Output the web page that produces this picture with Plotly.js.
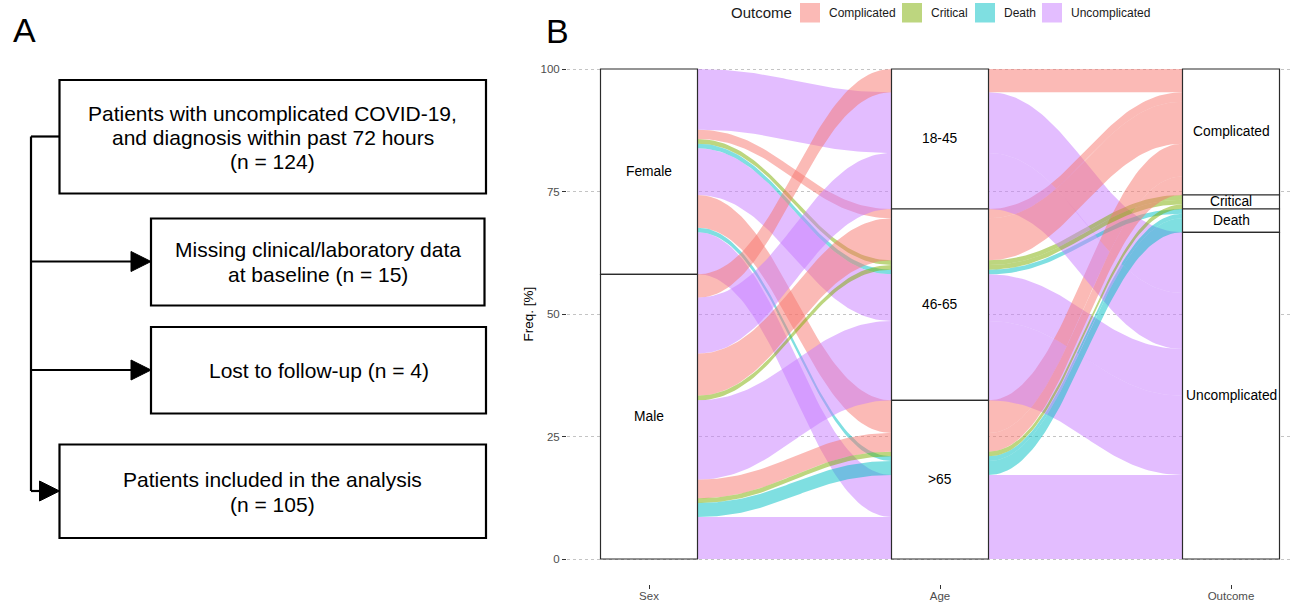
<!DOCTYPE html>
<html>
<head>
<meta charset="utf-8">
<script src="https://cdn.plot.ly/plotly-3.0.1.min.js"></script>
<style>
  html, body { margin: 0; padding: 0; background: #ffffff; }
  #chart { width: 1293px; height: 602px; }
</style>
</head>
<body>
<div id="chart"></div>
<script>
// ---------------- DATA ----------------
const axisLabels = ['Sex', 'Age', 'Outcome'];
const sexLevels = ['Female', 'Male'];
const ageLevels = ['18-45', '46-65', '>65'];
const outcomeLevels = ['Complicated', 'Critical', 'Death', 'Uncomplicated'];
const outcomeColors = ['#F8766D', '#7CAE00', '#00BFC4', '#C77CFF'];

// one record per (Sex, Age, Outcome) combination with patient count
const flowSex     = ['Female','Female','Female','Female','Female','Female','Female','Female',
                     'Male','Male','Male','Male','Male','Male','Male','Male','Male'];
const flowAge     = ['18-45','46-65','46-65','46-65','46-65','>65','>65','>65',
                     '18-45','18-45','46-65','46-65','46-65','>65','>65','>65','>65'];
const flowOutcome = ['Uncomplicated','Complicated','Critical','Death','Uncomplicated','Complicated','Death','Uncomplicated',
                     'Complicated','Uncomplicated','Complicated','Critical','Uncomplicated','Complicated','Critical','Death','Uncomplicated'];
const flowCount   = [13, 2, 1, 1, 10, 7, 1, 9,
                     5, 12, 9, 1, 17, 4, 1, 3, 9];

const yTickVals = [0, 25, 50, 75, 100];

// Flowchart (panel A) texts
const boxMainLines = ['Patients with uncomplicated COVID-19,', 'and diagnosis within past 72 hours', '(n = 124)'];
const boxMissingLines = ['Missing clinical/laboratory data', 'at baseline (n = 15)'];
const boxLostLines = ['Lost to follow-up (n = 4)'];
const boxIncludedLines = ['Patients included in the analysis', '(n = 105)'];

// ---------------- HELPERS ----------------
const W = 1293, H = 602;
const FONT = 'Liberation Sans, Arial, Helvetica, sans-serif';
const P = x => x / W;          // pixel x -> paper
const Q = y => 1 - y / H;      // pixel y -> paper

function rgba(hex, a) {
  const r = parseInt(hex.slice(1, 3), 16), g = parseInt(hex.slice(3, 5), 16), b = parseInt(hex.slice(5, 7), 16);
  return `rgba(${r},${g},${b},${a})`;
}

// ---------------- ALLUVIAL LAYOUT ----------------
const vars = [flowSex, flowAge, flowOutcome];
const levels = [sexLevels, ageLevels, outcomeLevels];
const nRec = flowCount.length;
const total = flowCount.reduce((a, b) => a + b, 0);
const pct = flowCount.map(c => c / total * 100);

// lode ordering priority at each axis (zigzag guidance)
const sortKeys = [[0, 1, 2], [1, 2, 0], [2, 1, 0]];
const lodeTop = [[], [], []], lodeBot = [[], [], []];
for (let a = 0; a < 3; a++) {
  const idx = [...Array(nRec).keys()];
  idx.sort((i, j) => {
    for (const k of sortKeys[a]) {
      const d = levels[k].indexOf(vars[k][i]) - levels[k].indexOf(vars[k][j]);
      if (d !== 0) return d;
    }
    return 0;
  });
  let y = 100;
  for (const i of idx) {
    lodeTop[a][i] = y;
    y -= pct[i];
    lodeBot[a][i] = y;
  }
}

// strata
const strata = [];
for (let a = 0; a < 3; a++) {
  let y = 100;
  for (const lv of levels[a]) {
    let s = 0;
    for (let i = 0; i < nRec; i++) if (vars[a][i] === lv) s += pct[i];
    strata.push({ axis: a, label: lv, top: y, bot: y - s });
    y -= s;
  }
}

const width = 1 / 3;
const N = 60;
const K = 0.42;
function bez(t, p0, p1, p2, p3) {
  const u = 1 - t;
  return u * u * u * p0 + 3 * u * u * t * p1 + 3 * u * t * t * p2 + t * t * t * p3;
}
function curve(xa, ya, xb, yb) {
  const xs = [], ys = [];
  for (let s = 0; s <= N; s++) {
    const t = s / N;
    xs.push(xa + (xb - xa) * bez(t, 0, K, 1 - K, 1));
    ys.push(ya + (yb - ya) * bez(t, 0, 0, 1, 1));
  }
  return [xs, ys];
}

const traces = [];
for (let a = 0; a < 2; a++) {
  const xa = (a + 1) + width / 2, xb = (a + 2) - width / 2;
  for (let i = 0; i < nRec; i++) {
    const [tx, ty] = curve(xa, lodeTop[a][i], xb, lodeTop[a + 1][i]);
    const [bx, by] = curve(xa, lodeBot[a][i], xb, lodeBot[a + 1][i]);
    const xs = tx.concat(bx.slice().reverse());
    const ys = ty.concat(by.slice().reverse());
    xs.push(xs[0]); ys.push(ys[0]);
    const col = outcomeColors[outcomeLevels.indexOf(flowOutcome[i])];
    traces.push({
      type: 'scatter', mode: 'lines', x: xs, y: ys,
      fill: 'toself', fillcolor: rgba(col, 0.5),
      line: { width: 0, color: 'rgba(0,0,0,0)' },
      hoverinfo: 'skip', showlegend: false,
      xaxis: 'x', yaxis: 'y'
    });
  }
}

// ---------------- SHAPES & ANNOTATIONS ----------------
const shapes = [], annotations = [];

// strata boxes + labels
for (const s of strata) {
  const c = s.axis + 1;
  shapes.push({
    type: 'rect', xref: 'x', yref: 'y', layer: 'above',
    x0: c - width / 2, x1: c + width / 2, y0: s.bot, y1: s.top,
    fillcolor: '#ffffff', line: { color: '#2b2b2b', width: 1.2 }
  });
  annotations.push({
    xref: 'x', yref: 'y', x: c, y: (s.top + s.bot) / 2, text: s.label,
    showarrow: false, xanchor: 'center', yanchor: 'middle',
    font: { family: FONT, size: 13.8, color: '#000000' }
  });
}

// legend (manual, ggplot-like)
annotations.push({
  xref: 'paper', yref: 'paper', x: P(729), y: Q(13), text: 'Outcome',
  showarrow: false, xanchor: 'left', yanchor: 'middle',
  font: { family: FONT, size: 15, color: '#1a1a1a' }
});
const legendKeyX = [800, 902, 975, 1042];
outcomeLevels.forEach((lv, k) => {
  const kx = legendKeyX[k];
  shapes.push({
    type: 'rect', xref: 'paper', yref: 'paper',
    x0: P(kx), x1: P(kx + 20), y0: Q(22.5), y1: Q(3),
    fillcolor: rgba(outcomeColors[k], 0.5), line: { width: 0 }
  });
  annotations.push({
    xref: 'paper', yref: 'paper', x: P(kx + 27), y: Q(13), text: lv,
    showarrow: false, xanchor: 'left', yanchor: 'middle',
    font: { family: FONT, size: 12, color: '#1a1a1a' }
  });
});

// panel letters
annotations.push({ xref: 'paper', yref: 'paper', x: P(11), y: Q(30), text: 'A', showarrow: false,
  xanchor: 'left', yanchor: 'middle', font: { family: FONT, size: 34, color: '#000' } });
annotations.push({ xref: 'paper', yref: 'paper', x: P(544), y: Q(31), text: 'B', showarrow: false,
  xanchor: 'left', yanchor: 'middle', font: { family: FONT, size: 34, color: '#000' } });

// flowchart boxes
function box(x0, y0, x1, y1, lines, lineY) {
  shapes.push({
    type: 'rect', xref: 'paper', yref: 'paper',
    x0: P(x0), x1: P(x1), y0: Q(y1), y1: Q(y0),
    fillcolor: 'rgba(0,0,0,0)', line: { color: '#000', width: 2.2 }
  });
  lines.forEach((t, k) => {
    annotations.push({
      xref: 'paper', yref: 'paper', x: P((x0 + x1) / 2), y: Q(lineY[k]), text: t,
      showarrow: false, xanchor: 'center', yanchor: 'middle',
      font: { family: FONT, size: 21, color: '#000' }
    });
  });
}
box(59.5, 80, 486, 193.5, boxMainLines, [113.5, 137.5, 161.5]);
box(151, 218.5, 484.5, 305.5, boxMissingLines, [250, 274.5]);
box(151, 327, 486, 413.5, boxLostLines, [370]);
box(59.5, 444.5, 486, 538, boxIncludedLines, [479.5, 504]);

function line(x0, y0, x1, y1) {
  shapes.push({ type: 'line', xref: 'paper', yref: 'paper', x0: P(x0), y0: Q(y0), x1: P(x1), y1: Q(y1),
    line: { color: '#000', width: 2.2 } });
}
function head(xTip, y, len, half) {
  shapes.push({ type: 'path', xref: 'paper', yref: 'paper',
    path: `M ${P(xTip - len)},${Q(y - half)} L ${P(xTip)},${Q(y)} L ${P(xTip - len)},${Q(y + half)} Z`,
    fillcolor: '#000', line: { color: '#000', width: 1 } });
}
line(31, 136.5, 59.5, 136.5);
line(31, 136.5, 31, 491);
line(31, 261.5, 134, 261.5); head(151, 261.5, 20, 10);
line(31, 370, 134, 370); head(151, 370, 20, 10);
line(31, 491, 42, 491); head(59.5, 491, 20, 10);

// ---------------- LAYOUT ----------------
const pxPerUnit = 291;
const xLeftPx = 567;
const xMin = 1 - (649 - xLeftPx) / pxPerUnit;
const xMax = xMin + (W - xLeftPx) / pxPerUnit;

const layout = {
  width: W, height: H,
  margin: { l: 0, r: 0, t: 0, b: 0, pad: 0 },
  paper_bgcolor: '#ffffff', plot_bgcolor: '#ffffff',
  showlegend: false,
  xaxis: {
    domain: [P(xLeftPx), 1], range: [xMin, xMax],
    tickvals: [1, 2, 3], ticktext: axisLabels,
    showgrid: false, zeroline: false, showline: false,
    ticks: 'outside', ticklen: 4, tickwidth: 1, tickcolor: '#333333',
    ticklabelstandoff: -2,
    tickfont: { family: FONT, size: 11.5, color: '#4D4D4D' },
    fixedrange: true
  },
  yaxis: {
    domain: [Q(583.5), Q(44.5)], range: [-5, 105],
    tickvals: yTickVals, ticktext: yTickVals.map(String),
    showgrid: true, gridcolor: '#c4c4c4', gridwidth: 1, griddash: 'dot',
    zeroline: false, showline: false,
    ticks: 'outside', ticklen: 4, tickwidth: 1, tickcolor: '#333333',
    tickfont: { family: FONT, size: 11.5, color: '#4D4D4D' },
    title: { text: 'Freq. [%]', font: { family: FONT, size: 13.5, color: '#000' }, standoff: 3 },
    automargin: false,
    fixedrange: true
  },
  shapes: shapes,
  annotations: annotations
};

Plotly.newPlot('chart', traces, layout, { displayModeBar: false, staticPlot: true });
</script>
</body>
</html>
